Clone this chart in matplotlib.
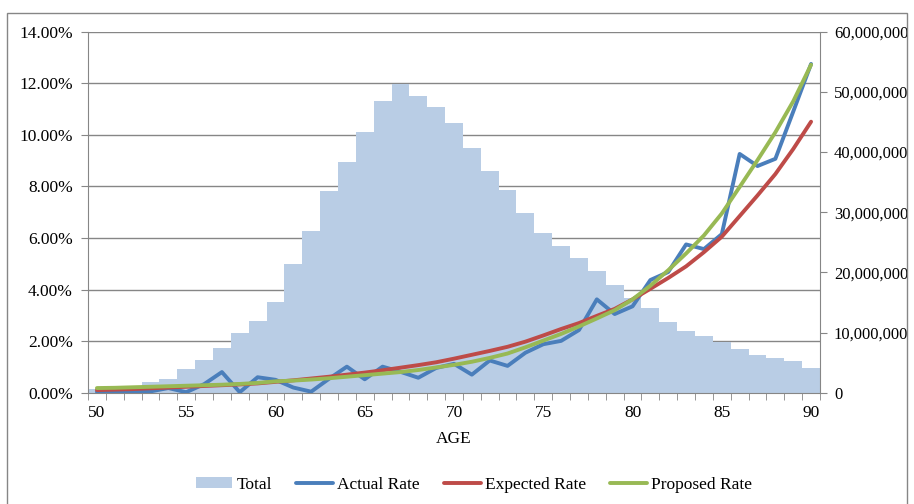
import numpy as np
import matplotlib
matplotlib.use("Agg")
import matplotlib.pyplot as plt
from matplotlib.patches import Rectangle
from matplotlib.ticker import FuncFormatter, MultipleLocator

# ── data ─────────────────────────────────────────────────────────────
AGES = list(range(50, 91))

# total exposure by age (right axis)
TOTAL = [
    0.6e6, 0.5e6, 0.5e6, 1.7e6, 2.2e6, 3.9e6, 5.4e6, 7.5e6, 9.9e6, 11.9e6,
    15.1e6, 21.4e6, 26.8e6, 33.5e6, 38.4e6, 43.4e6, 48.4e6, 51.3e6, 49.3e6, 47.5e6,
    44.9e6, 40.6e6, 36.9e6, 33.7e6, 29.8e6, 26.6e6, 24.4e6, 22.4e6, 20.3e6, 17.9e6,
    15.8e6, 14.1e6, 11.8e6, 10.3e6, 9.4e6, 8.4e6, 7.3e6, 6.3e6, 5.8e6, 5.2e6,
    4.1e6,
]

# rates in percent (left axis)
ACTUAL = [
    0.03, 0.03, 0.03, 0.05, 0.18, 0.02, 0.33, 0.80, 0.02, 0.60,
    0.50, 0.20, 0.04, 0.54, 1.01, 0.52, 1.01, 0.81, 0.58, 0.96,
    1.12, 0.70, 1.25, 1.04, 1.55, 1.88, 2.01, 2.43, 3.62, 3.05,
    3.35, 4.37, 4.68, 5.75, 5.57, 6.15, 9.26, 8.79, 9.07, 10.90,
    12.75,
]
EXPECTED = [
    0.10, 0.12, 0.14, 0.17, 0.20, 0.23, 0.26, 0.29, 0.32, 0.36,
    0.42, 0.48, 0.55, 0.62, 0.70, 0.78, 0.87, 0.97, 1.07, 1.18,
    1.32, 1.47, 1.62, 1.78, 1.98, 2.22, 2.47, 2.70, 2.98, 3.25,
    3.62, 4.03, 4.45, 4.90, 5.45, 6.05, 6.85, 7.65, 8.48, 9.45,
    10.51,
]
PROPOSED = [
    0.18, 0.19, 0.21, 0.23, 0.25, 0.27, 0.29, 0.31, 0.34, 0.38,
    0.44, 0.47, 0.51, 0.56, 0.62, 0.68, 0.74, 0.80, 0.88, 0.98,
    1.08, 1.20, 1.35, 1.52, 1.76, 2.02, 2.28, 2.57, 2.88, 3.20,
    3.62, 4.15, 4.75, 5.40, 6.10, 6.95, 7.98, 9.02, 10.10, 11.30,
    12.72,
]

X_LABELS = list(range(50, 91, 5))

# ── style ────────────────────────────────────────────────────────────
plt.rcParams["font.family"] = ["Liberation Serif", "DejaVu Serif"]
plt.rcParams["font.size"] = 12.5

GRID = "#868686"
C_TOTAL = "#B9CDE5"
C_ACTUAL = "#4A7EBB"
C_EXPECTED = "#BE4B48"
C_PROPOSED = "#98B954"

fig = plt.figure(figsize=(9.14, 5.04), dpi=100)
ax2 = fig.add_axes([88 / 914, 1 - 392.7 / 504, 732 / 914, 361 / 504])
ax = ax2.twinx()
# rate lines sit in front of the exposure bars
ax.set_zorder(ax2.get_zorder() + 1)
ax.patch.set_visible(False)

# left axis limits first so the grid transform is right
ax.set_ylim(0, 14)
ax2.set_ylim(0, 60e6)
ax2.set_xlim(49.5, 90.5)

# gridlines follow the left axis, drawn behind the bars
for y in range(2, 15, 2):
    ax2.plot([0, 1], [y, y], transform=ax.get_yaxis_transform(),
             color=GRID, lw=1.0, zorder=0, solid_capstyle="butt")

bars = ax2.bar(AGES, TOTAL, width=1.0, color=C_TOTAL, zorder=2, label="Total")

lw = 2.8
l1, = ax.plot(AGES, ACTUAL, color=C_ACTUAL, lw=lw, label="Actual Rate",
              solid_capstyle="round")
l2, = ax.plot(AGES, EXPECTED, color=C_EXPECTED, lw=lw, label="Expected Rate",
              solid_capstyle="round")
l3, = ax.plot(AGES, PROPOSED, color=C_PROPOSED, lw=lw, label="Proposed Rate",
              solid_capstyle="round")

# ── axes ─────────────────────────────────────────────────────────────
for a in (ax, ax2):
    for s in a.spines.values():
        s.set_visible(False)
        s.set_color(GRID)
ax.spines["left"].set_visible(True)
ax2.spines["bottom"].set_visible(True)
ax2.spines["right"].set_visible(True)

ax.yaxis.tick_left()
ax.yaxis.set_major_locator(MultipleLocator(2))
ax.yaxis.set_major_formatter(FuncFormatter(lambda v, p: f"{v:.2f}%"))
ax.tick_params(axis="y", direction="out", length=5, color=GRID, pad=6)

ax2.yaxis.tick_right()
ax2.yaxis.set_major_locator(MultipleLocator(10e6))
ax2.yaxis.set_major_formatter(FuncFormatter(lambda v, p: f"{v:,.0f}"))
ax2.tick_params(axis="y", direction="out", length=5, color=GRID, pad=5,
                labelsize=12)

# category labels at centres, tick marks at boundaries
ax2.set_xticks(X_LABELS)
ax2.set_xticks(np.arange(49.5, 91, 1.0), minor=True)
ax2.tick_params(axis="x", which="major", length=0, pad=9)
ax2.tick_params(axis="x", which="minor", direction="out", length=5, color=GRID)
ax2.set_xlabel("AGE", labelpad=7)

fig.legend(handles=[bars, l1, l2, l3], loc="center", ncol=4,
           bbox_to_anchor=(474 / 914, 1 - 485 / 504), frameon=False,
           handlelength=2.1, handletextpad=0.25, columnspacing=1.4,
           handleheight=0.6)

# outer chart border
fig.patches.append(Rectangle((7 / 914, -0.05), 900 / 914, 1 - 13 / 504 + 0.05,
                             transform=fig.transFigure, fill=False,
                             edgecolor=GRID, lw=1.0))

fig.savefig("out.png", dpi=100)
